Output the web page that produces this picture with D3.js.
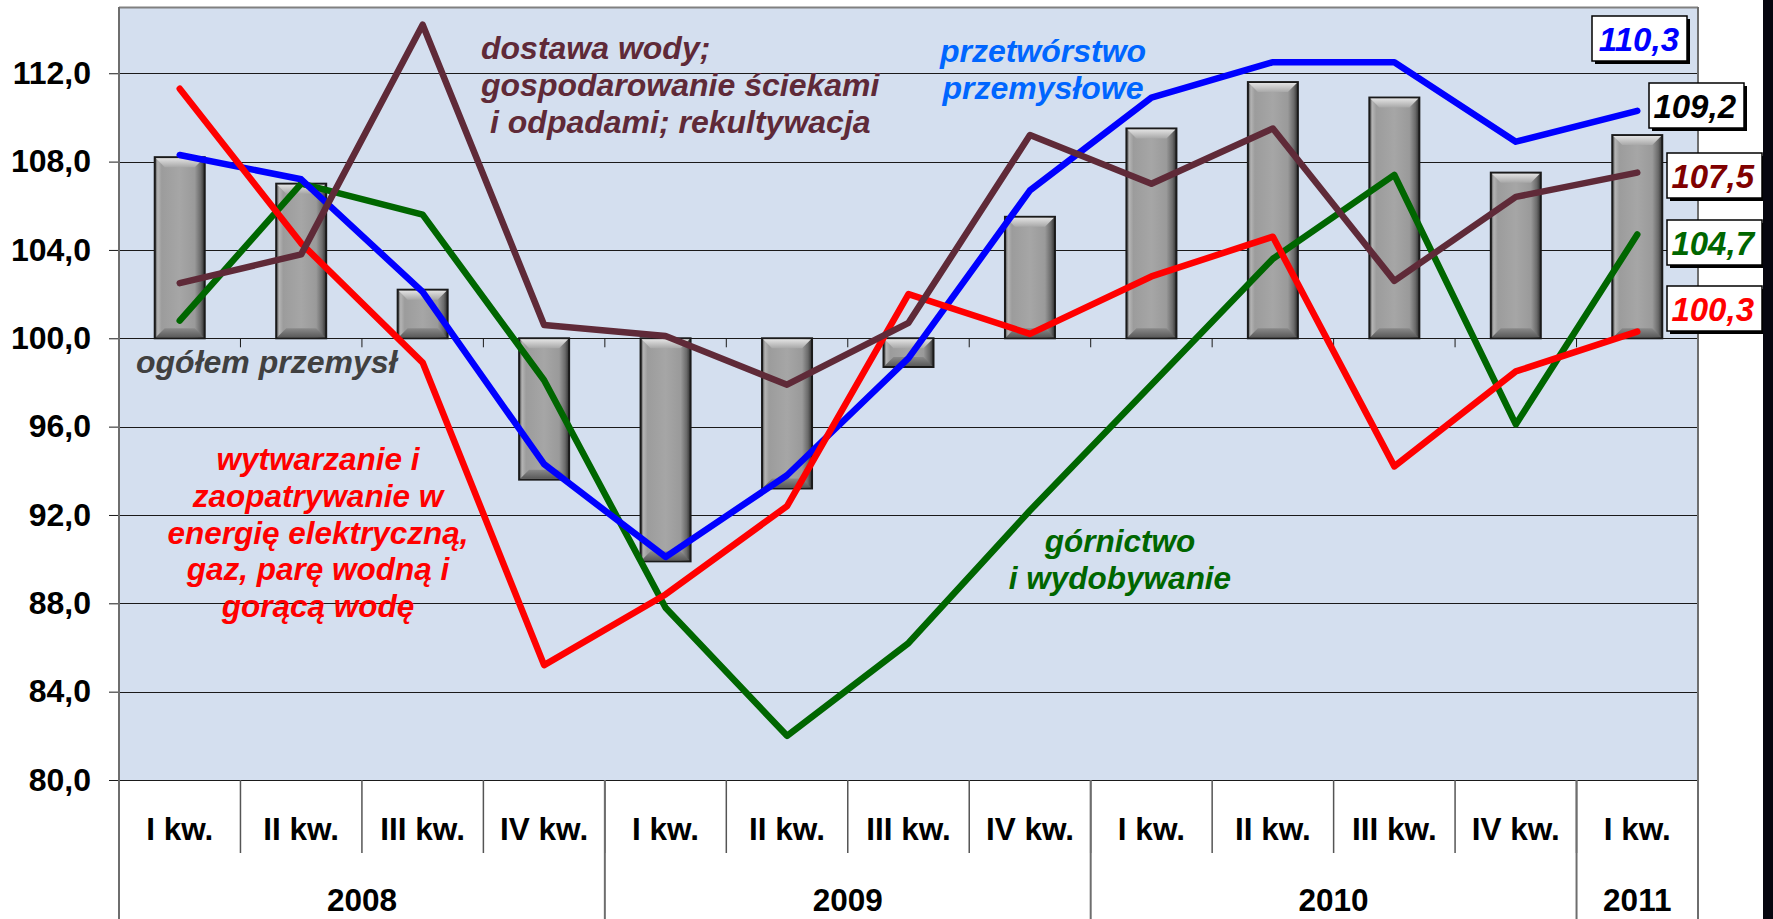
<!DOCTYPE html>
<html>
<head>
<meta charset="utf-8">
<script src="https://cdn.jsdelivr.net/npm/d3@7"></script>
<style>
  body { margin: 0; background: #fff; }
  svg { display: block; font-family: "Liberation Sans", Arial, sans-serif; }
</style>
</head>
<body>
<svg id="chart"></svg>
<script>
// data
var quarters = ["I kw.", "II kw.", "III kw.", "IV kw.", "I kw.", "II kw.", "III kw.", "IV kw.",
                "I kw.", "II kw.", "III kw.", "IV kw.", "I kw."];
var yearLabels = ["2008", "2009", "2010", "2011"];
var yearSpans = [4, 4, 4, 1];
var yTicks = [80, 84, 88, 92, 96, 100, 104, 108, 112];

var ogolem       = [108.2, 107.0, 102.2, 93.6, 89.9, 93.2, 98.7, 105.5, 109.5, 111.6, 110.9, 107.5, 109.2];
var gornictwo    = [100.8, 107.0, 105.6, 98.1, 87.8, 82.0, 86.2, 92.2, 97.9, 103.6, 107.4, 96.1, 104.7];
var przetworstwo = [108.3, 107.2, 102.1, 94.3, 90.1, 93.8, 99.1, 106.7, 110.9, 112.5, 112.5, 108.9, 110.3];
var energia      = [111.3, 104.3, 98.9, 85.2, 88.4, 92.4, 102.0, 100.2, 102.8, 104.6, 94.2, 98.5, 100.3];
var woda         = [102.5, 103.8, 114.2, 100.6, 100.1, 97.9, 100.7, 109.2, 107.0, 109.5, 102.6, 106.4, 107.5];

function createChart() {
  var width = 1773;
  var height = 919;
  var pLeft = 119, pRight = 1698, pTop = 7, pBottom = 780;

  var svg = d3.select("#chart")
              .attr("width", width)
              .attr("height", height);

  var x = d3.scaleBand()
            .domain(d3.range(quarters.length))
            .range([pLeft, pRight])
            .padding(0);

  var y = d3.scaleLinear()
            .domain([80, 115])
            .range([pBottom, pTop]);

  var fmt = function(v) { return v.toFixed(1).replace(".", ","); };

  // gradients for the bevelled bars
  var defs = svg.append("defs");
  var g1 = defs.append("linearGradient").attr("id", "barGrad");
  [["0%", "#4a4a4a"], ["6%", "#b4b4b4"], ["14%", "#9c9c9c"], ["50%", "#a6a6a6"],
   ["80%", "#9a9a9a"], ["92%", "#6a6a6a"], ["100%", "#2e2e2e"]].forEach(function(s) {
    g1.append("stop").attr("offset", s[0]).attr("stop-color", s[1]);
  });
  var g2 = defs.append("linearGradient").attr("id", "bevelTop")
               .attr("x1", 0).attr("y1", 0).attr("x2", 0).attr("y2", 1);
  g2.append("stop").attr("offset", "0%").attr("stop-color", "#e2e2e2");
  g2.append("stop").attr("offset", "100%").attr("stop-color", "#a8a8a8");
  var g3 = defs.append("linearGradient").attr("id", "bevelBot")
               .attr("x1", 0).attr("y1", 0).attr("x2", 0).attr("y2", 1);
  g3.append("stop").attr("offset", "0%").attr("stop-color", "#8a8a8a");
  g3.append("stop").attr("offset", "100%").attr("stop-color", "#5a5a5a");

  // plot background
  svg.append("rect")
     .attr("x", pLeft).attr("y", pTop)
     .attr("width", pRight - pLeft).attr("height", pBottom - pTop)
     .attr("fill", "#d4dfef");

  // gridlines
  svg.append("g")
     .selectAll("line")
     .data(yTicks)
     .enter()
     .append("line")
       .attr("x1", pLeft).attr("x2", pRight)
       .attr("y1", d => Math.round(y(d)) + 0.5)
       .attr("y2", d => Math.round(y(d)) + 0.5)
       .attr("stroke", "#1a1a1a")
       .attr("stroke-width", 1);

  // y axis labels
  var yAxis = d3.axisLeft(y)
                .tickValues(yTicks)
                .tickSize(10)
                .tickPadding(18)
                .tickFormat(fmt);
  var ya = svg.append("g")
     .attr("transform", "translate(" + pLeft + ",0)")
     .call(yAxis);
  ya.select(".domain").remove();
  ya.selectAll("line").attr("stroke", "#1a1a1a");
  ya.selectAll("text")
    .attr("font-size", 32)
    .attr("font-weight", "bold")
    .attr("fill", "#000")
    .attr("font-family", "'Liberation Sans', Arial, sans-serif");

  // category ticks on the 100 line
  svg.append("g")
     .selectAll("line")
     .data(d3.range(1, quarters.length))
     .enter()
     .append("line")
       .attr("x1", d => x(d)).attr("x2", d => x(d))
       .attr("y1", y(100)).attr("y2", y(100) + 9)
       .attr("stroke", "#1a1a1a");

  // bars (ogółem przemysł)
  var bw = 50;
  var bars = svg.append("g")
     .selectAll("g")
     .data(ogolem)
     .enter()
     .append("g");

  bars.append("rect")
      .attr("x", (d, i) => x(i) + x.bandwidth() / 2 - bw / 2)
      .attr("y", d => Math.min(y(d), y(100)))
      .attr("width", bw)
      .attr("height", d => Math.abs(y(d) - y(100)))
      .attr("fill", "url(#barGrad)")
      .attr("stroke", "#1a1a1a")
      .attr("stroke-width", 2);

  bars.append("path")
      .attr("fill", "url(#bevelTop)")
      .attr("d", function(d, i) {
        var x0 = x(i) + x.bandwidth() / 2 - bw / 2 + 1, x1 = x0 + bw - 2;
        var y0 = Math.min(y(d), y(100)) + 1;
        var b = Math.min(9, Math.abs(y(d) - y(100)) / 2 - 1);
        return "M" + x0 + "," + y0 + "L" + x1 + "," + y0 + "L" + (x1 - b) + "," + (y0 + b) +
               "L" + (x0 + b) + "," + (y0 + b) + "Z";
      });

  bars.append("path")
      .attr("fill", "url(#bevelBot)")
      .attr("d", function(d, i) {
        var x0 = x(i) + x.bandwidth() / 2 - bw / 2 + 1, x1 = x0 + bw - 2;
        var y0 = Math.max(y(d), y(100)) - 1;
        var b = Math.min(9, Math.abs(y(d) - y(100)) / 2 - 1);
        return "M" + x0 + "," + y0 + "L" + x1 + "," + y0 + "L" + (x1 - b) + "," + (y0 - b) +
               "L" + (x0 + b) + "," + (y0 - b) + "Z";
      });

  // lines, drawn in section order B, C, D, E
  var line = d3.line()
               .x((d, i) => x(i) + x.bandwidth() / 2)
               .y(d => y(d));

  var series = [
    { values: gornictwo, color: "#006600" },
    { values: przetworstwo, color: "#0000ff" },
    { values: energia, color: "#ff0000" },
    { values: woda, color: "#5f2a38" }
  ];

  svg.append("g")
     .selectAll("path")
     .data(series)
     .enter()
     .append("path")
       .attr("d", d => line(d.values))
       .attr("fill", "none")
       .attr("stroke", d => d.color)
       .attr("stroke-width", 6.5)
       .attr("stroke-linejoin", "round")
       .attr("stroke-linecap", "round");

  // plot frame
  svg.append("line")
     .attr("x1", pLeft).attr("x2", pRight).attr("y1", pTop + 0.5).attr("y2", pTop + 0.5)
     .attr("stroke", "#808080").attr("stroke-width", 2);
  [pLeft, pRight].forEach(function(xx) {
    svg.append("line")
       .attr("x1", xx).attr("x2", xx).attr("y1", pTop).attr("y2", height)
       .attr("stroke", "#6e6e6e").attr("stroke-width", 2);
  });

  // category labels and separators under the plot
  svg.append("g")
     .selectAll("line")
     .data(d3.range(1, quarters.length))
     .enter()
     .append("line")
       .attr("x1", d => x(d)).attr("x2", d => x(d))
       .attr("y1", pBottom).attr("y2", pBottom + 73)
       .attr("stroke", "#555")
       .attr("stroke-width", 1.5);

  svg.append("g")
     .selectAll("text")
     .data(quarters)
     .enter()
     .append("text")
       .attr("x", (d, i) => x(i) + x.bandwidth() / 2)
       .attr("y", 840)
       .attr("text-anchor", "middle")
       .attr("font-size", 31.5)
       .attr("font-weight", "bold")
       .text(d => d);

  // year groups
  var starts = [];
  yearSpans.reduce(function(acc, n) { starts.push(acc); return acc + n; }, 0);

  svg.append("g")
     .selectAll("line")
     .data(starts.slice(1))
     .enter()
     .append("line")
       .attr("x1", d => x(d)).attr("x2", d => x(d))
       .attr("y1", pBottom).attr("y2", height)
       .attr("stroke", "#6e6e6e")
       .attr("stroke-width", 2);

  svg.append("g")
     .selectAll("text")
     .data(yearLabels)
     .enter()
     .append("text")
       .attr("x", (d, i) => x(starts[i]) + yearSpans[i] * x.bandwidth() / 2)
       .attr("y", 911)
       .attr("text-anchor", "middle")
       .attr("font-size", 31.5)
       .attr("font-weight", "bold")
       .text(d => d);

  // annotations
  function note(lines, xs, y0, color, anchor, size) {
    var t = svg.append("text")
               .attr("fill", color)
               .attr("font-size", size || 31)
               .attr("font-weight", "bold")
               .attr("font-style", "italic")
               .attr("text-anchor", anchor);
    lines.forEach(function(s, i) {
      t.append("tspan")
       .attr("x", Array.isArray(xs) ? xs[i] : xs)
       .attr("y", y0 + i * 36.8)
       .text(s);
    });
  }

  note(["dostawa wody;", "gospodarowanie ściekami", "i odpadami; rekultywacja"],
       [481, 481, 490], 59, "#5f2a38", "start", 32);
  note(["przetwórstwo", "przemysłowe"], 1043, 62, "#0066ff", "middle", 32);
  note(["ogółem przemysł"], 136, 373, "#404040", "start", 32);
  note(["wytwarzanie i", "zaopatrywanie w", "energię elektryczną,", "gaz, parę wodną i", "gorącą wodę"],
       318, 470, "#ff0000", "middle", 31.5);
  note(["górnictwo", "i wydobywanie"], 1120, 552, "#006600", "middle", 31.5);

  // value boxes for the last quarter
  var last = quarters.length - 1;
  var boxes = [
    { v: przetworstwo[last], color: "#0000ff", x: 1592, y: 16 },
    { v: ogolem[last], color: "#000000", x: 1649, y: 83 },
    { v: woda[last], color: "#800000", x: 1667, y: 153 },
    { v: gornictwo[last], color: "#006600", x: 1667, y: 220 },
    { v: energia[last], color: "#ff0000", x: 1667, y: 286 }
  ];

  var bx = svg.append("g")
     .selectAll("g")
     .data(boxes)
     .enter()
     .append("g");

  bx.append("rect")
    .attr("x", d => d.x + 3).attr("y", d => d.y + 3)
    .attr("width", 95).attr("height", 45)
    .attr("fill", "#000");
  bx.append("rect")
    .attr("x", d => d.x).attr("y", d => d.y)
    .attr("width", 95).attr("height", 45)
    .attr("fill", "#fff")
    .attr("stroke", "#000")
    .attr("stroke-width", 1.5);
  bx.append("text")
    .attr("x", d => d.x + 87)
    .attr("y", d => d.y + 35)
    .attr("text-anchor", "end")
    .attr("font-size", 33)
    .attr("font-weight", "bold")
    .attr("font-style", "italic")
    .attr("fill", d => d.color)
    .text(d => fmt(d.v));

  // dark edge on the right
  svg.append("rect")
     .attr("x", 1763).attr("y", 0)
     .attr("width", 10).attr("height", height)
     .attr("fill", "#06060f");
}

createChart();
</script>
</body>
</html>
